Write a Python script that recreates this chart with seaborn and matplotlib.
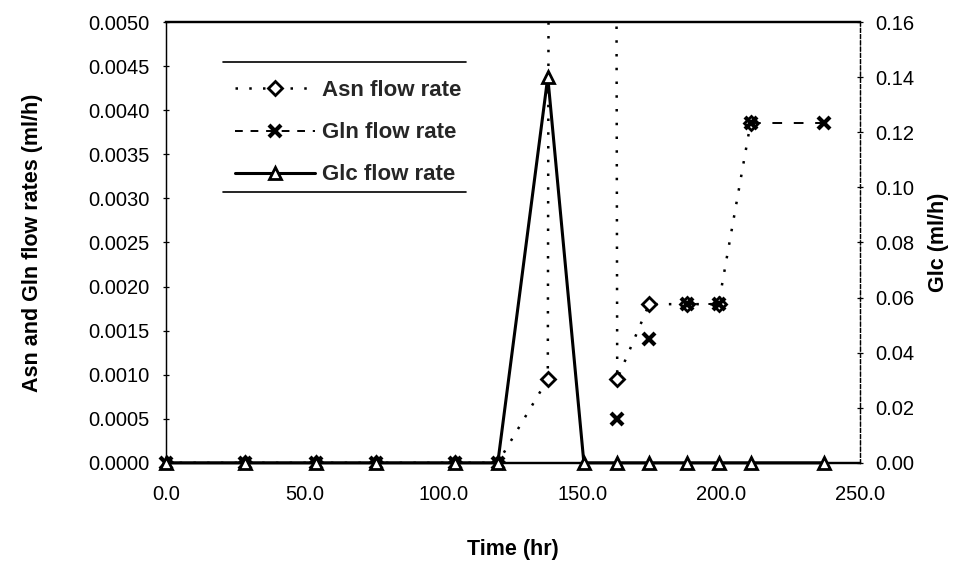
import numpy as np
import pandas as pd
import matplotlib
matplotlib.use("Agg")
import matplotlib.pyplot as plt
import seaborn as sns
from matplotlib.lines import Line2D
from matplotlib.ticker import FormatStrFormatter, MultipleLocator

# Sampling times (hr) and feed flow rates (ml/h)
time_hr = [0.0, 28.5, 54.0, 75.5, 104.0, 119.5, 137.5, 150.5,
           162.5, 174.0, 187.5, 199.0, 210.5, 237.0]
asn_rate = [0, 0, 0, 0, 0, 0, 0.00095, 0.2,
            0.00095, 0.0018, 0.0018, 0.0018, 0.00385, np.nan]
gln_rate = [0, 0, 0, 0, 0, 0, np.nan, np.nan,
            0.0005, 0.0014, 0.0018, 0.0018, 0.00385, 0.00385]
glc_rate = [0, 0, 0, 0, 0, 0, 0.14, 0,
            0, 0, 0, 0, 0, 0]
# Gln points that are joined by a line share a run id
gln_run = [0, 0, 0, 0, 0, 0, -1, -1, 1, 2, 3, 3, 4, 4]

series_labels = ["Asn flow rate", "Gln flow rate", "Glc flow rate"]
x_ticks = [0, 50, 100, 150, 200, 250]

df = pd.DataFrame({"time": time_hr, "asn": asn_rate, "gln": gln_rate,
                   "glc": glc_rate, "gln_run": gln_run})

sns.set_theme(style="white")
plt.rcParams["font.family"] = ["Liberation Sans", "DejaVu Sans"]

fig = plt.figure(figsize=(9.59, 5.80), dpi=100)
ax = fig.add_axes([0.173, 0.202, 0.724, 0.760])
ax2 = ax.twinx()

asn_style = dict(color="black", linewidth=1.8, linestyle=(0, (1, 4.5)),
                 marker="D", markersize=7, markerfacecolor="white",
                 markeredgecolor="black", markeredgewidth=2.0)
gln_line_style = dict(color="black", linewidth=1.4, linestyle=(0, (5, 6)))
gln_marker_style = dict(color="black", linestyle="none", marker="x",
                        markersize=9, markeredgewidth=3.0,
                        markeredgecolor="black")
glc_style = dict(color="black", linewidth=2.2, linestyle="-",
                 marker="^", markersize=8, markerfacecolor="white",
                 markeredgecolor="black", markeredgewidth=2.0)

# Asn (left axis)
sns.lineplot(data=df.dropna(subset=["asn"]), x="time", y="asn", ax=ax,
             estimator=None, sort=False, legend=False, zorder=3,
             **asn_style)
# Gln (left axis): dashed runs, then markers
gln_df = df.dropna(subset=["gln"])
sns.lineplot(data=gln_df, x="time", y="gln", units="gln_run", ax=ax,
             estimator=None, legend=False, zorder=3, **gln_line_style)
sns.lineplot(data=gln_df, x="time", y="gln", ax=ax, estimator=None,
             sort=False, legend=False, zorder=4, clip_on=False,
             **gln_marker_style)
# Glc (right axis)
sns.lineplot(data=df, x="time", y="glc", ax=ax2, estimator=None,
             sort=False, legend=False, zorder=4, clip_on=False,
             **glc_style)

ax.set_xlim(0, 250)
ax.set_ylim(0, 0.005)
ax2.set_ylim(0, 0.16)
ax.set_xticks(x_ticks)
ax.xaxis.set_major_formatter(FormatStrFormatter("%.1f"))
ax.yaxis.set_major_locator(MultipleLocator(0.0005))
ax.yaxis.set_major_formatter(FormatStrFormatter("%.4f"))
ax2.yaxis.set_major_locator(MultipleLocator(0.02))
ax2.yaxis.set_major_formatter(FormatStrFormatter("%.2f"))

tick_font = 14.5
ax.tick_params(axis="x", length=0, pad=16, labelsize=tick_font, colors="black")
ax.tick_params(axis="y", direction="inout", length=5, width=0.9,
               labelsize=tick_font, colors="black", pad=9, left=True)
ax2.tick_params(axis="y", direction="inout", length=5, width=0.9,
                labelsize=tick_font, colors="black", pad=8, right=True)

label_font = dict(fontsize=15.5, fontweight="bold", color="black")
ax.set_xlabel("Time (hr)", labelpad=25, **label_font)
ax.set_ylabel("Asn and Gln flow rates (ml/h)", labelpad=33, **label_font)
ax2.set_ylabel("Glc (ml/h)", labelpad=10, **label_font)

for a in (ax, ax2):
    a.spines["top"].set_linewidth(1.6)
    a.spines["bottom"].set_linewidth(1.6)
    a.spines["left"].set_linewidth(0.9)
    a.spines["right"].set_linewidth(0.9)
    a.spines["right"].set_linestyle((0, (3, 2)))
    for s in a.spines.values():
        s.set_color("black")
ax2.patch.set_visible(False)

handles = [
    Line2D([], [], **asn_style),
    Line2D([], [], color="black", linewidth=1.4, linestyle=(0, (4, 4)),
           marker="x", markersize=9, markeredgewidth=3.0),
    Line2D([], [], **glc_style),
]
leg = ax2.legend(handles, series_labels, loc="upper left",
                 bbox_to_anchor=(0.066, 0.921), frameon=False, numpoints=1,
                 handlelength=3.6, handletextpad=0.3, labelspacing=0.95,
                 borderpad=0.55, prop=dict(size=16, weight="bold"))

# Rules above and below the legend
fig.canvas.draw()
bb = leg.get_window_extent().transformed(fig.transFigure.inverted())
lift = 6 / fig.bbox.height
for yy in (bb.y0 + lift, bb.y1 + lift):
    fig.add_artist(Line2D([bb.x0, bb.x1 - 0.008], [yy, yy],
                          transform=fig.transFigure,
                          color="black", linewidth=1.2))

fig.savefig("out.png", dpi=100, facecolor="white")
